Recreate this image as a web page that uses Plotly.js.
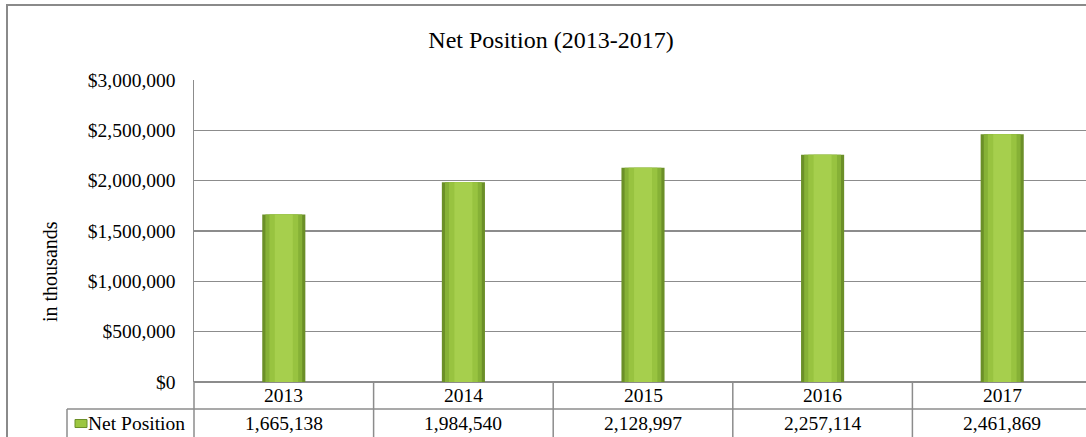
<!DOCTYPE html>
<html>
<head>
<meta charset="utf-8">
<script src="https://cdn.plot.ly/plotly-3.0.1.min.js"></script>
<style>html,body{margin:0;padding:0;background:#fff;}#chart{width:1086px;height:437px;}</style>
</head>
<body>
<div id="chart"></div>
<script>
// Data
var years = ["2013", "2014", "2015", "2016", "2017"];
var netPosition = [1665138, 1984540, 2128997, 2257114, 2461869];
var seriesName = "Net Position";
var chartTitle = "Net Position (2013-2017)";
var yTitle = "in thousands";

var FONT = "Liberation Serif, Times New Roman, serif";
var GRID = "#8c8c8c";
var FS = 19.5;

// plot area in pixels
var L = 194, T = 80, B = 382, W = 892, H = B - T;
function px(x) { return (x - L) / W; }
function py(y) { return (B - y) / H; }

var xIdx = years.map(function (_, i) { return i; });
function fmt(v) { return v.toLocaleString("en-US"); }

var layers = [
  { w: 0.24, c: "#6b8f28" },
  { w: 0.205, c: "#86b136" },
  { w: 0.16, c: "#98c340" },
  { w: 0.10, c: "#a6cf4d" }
];
var traces = layers.map(function (l) {
  return {
    type: "bar", x: xIdx, y: netPosition, width: l.w,
    marker: { color: l.c, line: { width: 0 } },
    hoverinfo: "skip", showlegend: false
  };
});

var shapes = [];
var lineStyle = { color: GRID, width: 1.5 };
// outer frame
shapes.push({ type: "rect", xref: "paper", yref: "paper", x0: px(7), x1: px(1095), y0: py(445), y1: py(5), line: { color: "#8a8a8a", width: 2 }, layer: "below" });
// table: left axis extension
shapes.push({ type: "line", xref: "paper", yref: "paper", x0: 0, x1: 0, y0: 0, y1: py(445), line: lineStyle });
// category separators
for (var i = 0; i < years.length - 1; i++) {
  shapes.push({ type: "line", xref: "x", yref: "paper", x0: i + 0.5, x1: i + 0.5, y0: 0, y1: py(445), line: lineStyle });
}
// row separator
shapes.push({ type: "line", xref: "paper", yref: "paper", x0: px(67), x1: px(1095), y0: py(409), y1: py(409), line: lineStyle });
// legend cell left border
shapes.push({ type: "line", xref: "paper", yref: "paper", x0: px(67), x1: px(67), y0: py(409), y1: py(445), line: lineStyle });
// legend key
shapes.push({ type: "rect", xref: "paper", yref: "paper", x0: px(75), x1: px(87), y0: py(427.5), y1: py(419.5), fillcolor: "#9cc63f", line: { color: "#6b8f28", width: 1 } });

var annotations = [];
years.forEach(function (yr, i) {
  annotations.push({ xref: "x", yref: "paper", x: i, y: py(395.5), text: yr, showarrow: false, xanchor: "center", yanchor: "middle", font: { family: FONT, size: FS, color: "#000" } });
  annotations.push({ xref: "x", yref: "paper", x: i, y: py(423), text: fmt(netPosition[i]), showarrow: false, xanchor: "center", yanchor: "middle", font: { family: FONT, size: FS, color: "#000" } });
});
annotations.push({ xref: "paper", yref: "paper", x: px(86), y: py(423), text: seriesName, showarrow: false, xanchor: "left", yanchor: "middle", font: { family: FONT, size: FS, color: "#000" } });
annotations.push({ xref: "paper", yref: "paper", x: px(50), y: py(272), text: yTitle, textangle: -90, showarrow: false, xanchor: "center", yanchor: "middle", font: { family: FONT, size: 20, color: "#000" } });

var layout = {
  width: 1086, height: 437,
  margin: { l: L, r: 0, t: T, b: 437 - B, pad: 0 },
  paper_bgcolor: "#fff", plot_bgcolor: "#fff",
  barmode: "overlay",
  showlegend: false,
  title: { text: chartTitle, x: 551 / 1086, xanchor: "center", y: 1 - 40 / 437, yanchor: "middle", font: { family: FONT, size: 24, color: "#000" } },
  xaxis: { range: [-0.5, -0.5 + W / 179.6], showticklabels: false, showgrid: false, zeroline: false, showline: false, ticks: "", fixedrange: true },
  yaxis: {
    range: [0, 3000000], dtick: 500000, tick0: 0, tickprefix: "$", tickformat: ",d",
    showgrid: true, gridcolor: GRID, gridwidth: 1.5,
    zeroline: true, zerolinecolor: GRID, zerolinewidth: 1.5,
    showline: true, linecolor: GRID, linewidth: 1.5,
    ticks: "", ticklabelstandoff: 13,
    tickfont: { family: FONT, size: FS, color: "#000" }
  },
  shapes: shapes,
  annotations: annotations,
  font: { family: FONT }
};

Plotly.newPlot("chart", traces, layout, { displayModeBar: false, staticPlot: true });
</script>
</body>
</html>
